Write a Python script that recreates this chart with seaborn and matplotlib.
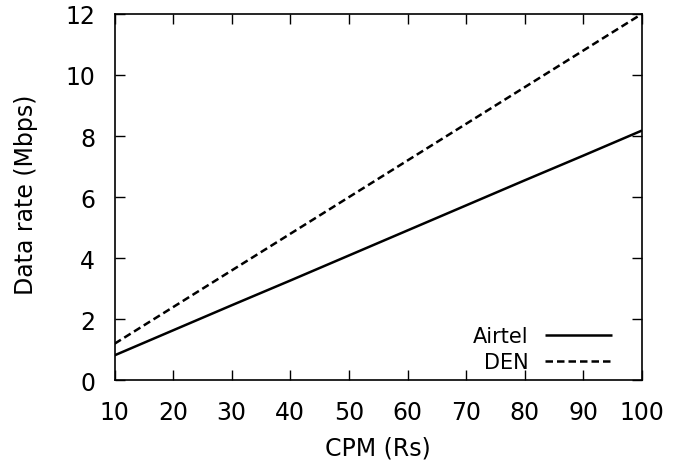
import pandas as pd
import matplotlib
matplotlib.use("Agg")
import matplotlib.pyplot as plt
import seaborn as sns

# CPM (Rs) vs data rate (Mbps)
cpm = [10, 20, 30, 40, 50, 60, 70, 80, 90, 100]
airtel = [0.82, 1.64, 2.46, 3.27, 4.09, 4.91, 5.73, 6.55, 7.36, 8.18]
den = [1.2, 2.4, 3.6, 4.8, 6.0, 7.2, 8.4, 9.6, 10.8, 12.0]

df = pd.DataFrame({"CPM": cpm * 2,
                   "rate": airtel + den,
                   "isp": ["Airtel"] * len(cpm) + ["DEN"] * len(cpm)})

sns.set_style("ticks")
plt.rcParams["font.family"] = ["DejaVu Sans"]
plt.rcParams["text.color"] = "black"
plt.rcParams["axes.labelcolor"] = "black"
plt.rcParams["xtick.color"] = "black"
plt.rcParams["ytick.color"] = "black"

fig, ax = plt.subplots(figsize=(6.94, 4.64), dpi=100)
sns.lineplot(data=df, x="CPM", y="rate", hue="isp", style="isp",
             palette=["black", "black"], dashes=[(1, 0), (3, 1.6)],
             linewidth=1.8, ax=ax)

ax.set_xlim(10, 100)
ax.set_ylim(0, 12)
ax.set_xticks(range(10, 101, 10))
ax.set_yticks(range(0, 13, 2))
ax.tick_params(direction="in", top=True, right=True, labelsize=17, length=7, width=1)
ax.tick_params(axis="x", pad=14)
ax.tick_params(axis="y", pad=14)
for s in ax.spines.values():
    s.set_linewidth(1.2)
    s.set_color("black")
ax.set_xlabel("CPM (Rs)", fontsize=17)
ax.set_ylabel("Data rate (Mbps)", fontsize=17)
ax.xaxis.set_label_coords(0.5, -0.15)
ax.yaxis.set_label_coords(-0.146, 0.51)
ax.legend(title=None, loc="lower right", frameon=False, markerfirst=False,
          fontsize=15, handlelength=3.2, borderaxespad=0.0, labelspacing=0.3,
          bbox_to_anchor=(0.959, 0.0))

plt.subplots_adjust(left=0.165, right=0.925, top=0.968, bottom=0.178)
plt.savefig("out.png", dpi=100)
